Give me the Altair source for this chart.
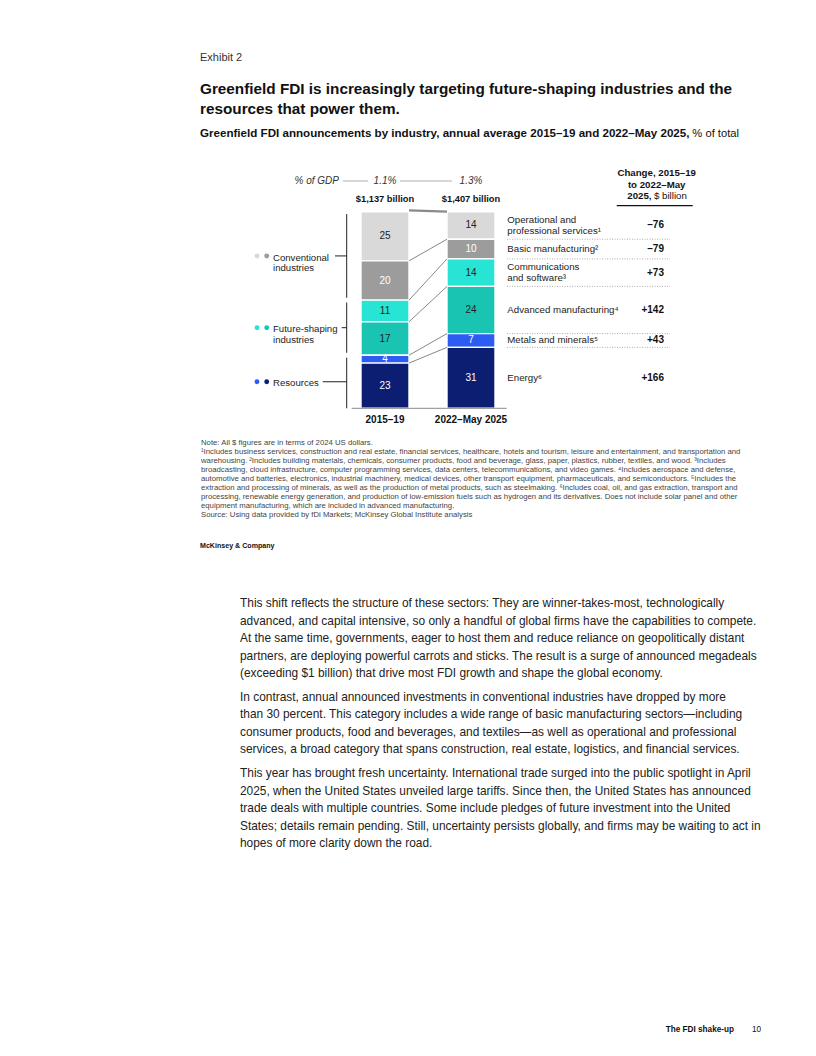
import altair as alt
import pandas as pd

# ------------------------------------------------------------------ data
periods = ["2015–19", "2022–May 2025"]
period_totals = ["$1,137 billion", "$1,407 billion"]
gdp_share = ["1.1%", "1.3%"]

industries = [
    "Operational and professional services",
    "Basic manufacturing",
    "Communications and software",
    "Advanced manufacturing",
    "Metals and minerals",
    "Energy",
]
industry_label_lines = [
    ["Operational and", "professional services¹"],
    ["Basic manufacturing²"],
    ["Communications", "and software³"],
    ["Advanced manufacturing⁴"],
    ["Metals and minerals⁵"],
    ["Energy⁶"],
]
share_2015_19 = [25, 20, 11, 17, 4, 23]
share_2022_may_2025 = [14, 10, 14, 24, 7, 31]
change_bn = ["–76", "–79", "+73", "+142", "+43", "+166"]

group_names = ["Conventional", "Future-shaping", "Resources"]
group_label_lines = [["Conventional", "industries"], ["Future-shaping", "industries"], ["Resources"]]
industry_group = ["Conventional", "Conventional", "Future-shaping", "Future-shaping", "Resources", "Resources"]

industry_colors = ["#d9d9d9", "#9c9c9c", "#28e4d5", "#19c4b2", "#2d5cf2", "#0b1e72"]
value_text_colors = ["#222222", "#ffffff", "#222222", "#222222", "#ffffff", "#ffffff"]

title_lines = [
    "Greenfield FDI is increasingly targeting future-shaping industries and the",
    "resources that power them.",
]
subtitle_bold = "Greenfield FDI announcements by industry, annual average 2015–19 and 2022–May 2025,"
subtitle_plain = "% of total"

footnote_lines = [
    "Note: All $ figures are in terms of 2024 US dollars.",
    "¹Includes business services, construction and real estate, financial services, healthcare, hotels and tourism, leisure and entertainment, and transportation and",
    "warehousing. ²Includes building materials, chemicals, consumer products, food and beverage, glass, paper, plastics, rubber, textiles, and wood. ³Includes",
    "broadcasting, cloud infrastructure, computer programming services, data centers, telecommunications, and video games. ⁴Includes aerospace and defense,",
    "automotive and batteries, electronics, industrial machinery, medical devices, other transport equipment, pharmaceuticals, and semiconductors. ⁵Includes the",
    "extraction and processing of minerals, as well as the production of metal products, such as steelmaking. ⁶Includes coal, oil, and gas extraction, transport and",
    "processing, renewable energy generation, and production of low-emission fuels such as hydrogen and its derivatives. Does not include solar panel and other",
    "equipment manufacturing, which are included in advanced manufacturing.",
    "Source: Using data provided by fDi Markets; McKinsey Global Institute analysis",
]

body_paragraphs = [
    [
        "This shift reflects the structure of these sectors: They are winner-takes-most, technologically",
        "advanced, and capital intensive, so only a handful of global firms have the capabilities to compete.",
        "At the same time, governments, eager to host them and reduce reliance on geopolitically distant",
        "partners, are deploying powerful carrots and sticks. The result is a surge of announced megadeals",
        "(exceeding $1 billion) that drive most FDI growth and shape the global economy.",
    ],
    [
        "In contrast, annual announced investments in conventional industries have dropped by more",
        "than 30 percent. This category includes a wide range of basic manufacturing sectors—including",
        "consumer products, food and beverages, and textiles—as well as operational and professional",
        "services, a broad category that spans construction, real estate, logistics, and financial services.",
    ],
    [
        "This year has brought fresh uncertainty. International trade surged into the public spotlight in April",
        "2025, when the United States unveiled large tariffs. Since then, the United States has announced",
        "trade deals with multiple countries. Some include pledges of future investment into the United",
        "States; details remain pending. Still, uncertainty persists globally, and firms may be waiting to act in",
        "hopes of more clarity down the road.",
    ],
]

# ------------------------------------------------------------------ layout
FONT = "Liberation Sans"
M = 8  # page margin


def px(v):
    return v - M


GAP = 38 / 48  # gap between bars in bar widths
BAR_TOP, BAR_BOTTOM = 211.7, 408.3
PX_PER_UNIT = (BAR_BOTTOM - BAR_TOP) / 100
X_SCALE = alt.Scale(domain=[0, 2 + GAP], range=[px(361), px(495)], nice=False, zero=False)
Y_SCALE = alt.Scale(domain=[0, 100], range=[px(BAR_TOP), px(BAR_BOTTOM)], nice=False, zero=False)


def X(f):
    return alt.X(f, type="quantitative", scale=X_SCALE, axis=None)


def Y(f):
    return alt.Y(f, type="quantitative", scale=Y_SCALE, axis=None)


def txt(text, x, y, size, weight="normal", color="#222222", align="left", style="normal"):
    return alt.Chart(pd.DataFrame({"t": [text]})).mark_text(
        font=FONT, fontSize=size, fontWeight=weight, color=color, align=align,
        baseline="middle", fontStyle=style,
    ).encode(x=alt.value(px(x)), y=alt.value(px(y)), text="t:N")


def hrule(x1, x2, y, color="#999999", width=1.0, dash=None):
    kw = dict(color=color, strokeWidth=width)
    if dash:
        kw["strokeDash"] = dash
    return alt.Chart(pd.DataFrame({"a": [0]})).mark_rule(**kw).encode(
        x=alt.value(px(x1)), x2=alt.value(px(x2)), y=alt.value(px(y)), y2=alt.value(px(y)))


# ------------------------------------------------------------------ tables
shares = [share_2015_19, share_2022_may_2025]
rows, bounds = [], []
for pi, p in enumerate(periods):
    x0 = pi * (1 + GAP)
    cum = 0
    b = [0]
    for k, ind in enumerate(industries):
        s = shares[pi][k]
        rows.append(dict(period=p, industry=ind, value=s, x0=x0, x1=x0 + 1, xc=x0 + 0.5,
                         y0=cum, y1=cum + s, ymid=cum + s / 2,
                         color=industry_colors[k], tcolor=value_text_colors[k]))
        cum += s
        b.append(cum)
    bounds.append(b)
bars_df = pd.DataFrame(rows)

conn_df = pd.DataFrame([dict(xa=1, xb=1 + GAP, ya=bounds[0][k], yb=bounds[1][k]) for k in range(1, 6)])
top_df = pd.DataFrame([dict(xa=1, xb=1 + GAP, ya=0, yb=0)])

LINE_UNITS = 10.7 / PX_PER_UNIT
mid2 = [(bounds[1][k] + bounds[1][k + 1]) / 2 for k in range(6)]
rl_rows = []
for k, lines in enumerate(industry_label_lines):
    n = len(lines)
    for j, line in enumerate(lines):
        rl_rows.append(dict(text=line, y=mid2[k] + (j - (n - 1) / 2) * LINE_UNITS))
right_lab_df = pd.DataFrame(rl_rows)
change_df = pd.DataFrame(dict(text=change_bn, y=mid2))
dotted_df = pd.DataFrame(dict(y=bounds[1][1:6]))

# groups on the first bar
g_rows = []
for g, lines in zip(group_names, group_label_lines):
    idx = [k for k, ig in enumerate(industry_group) if ig == g]
    start, end = bounds[0][idx[0]], bounds[0][idx[-1] + 1]
    g_rows.append(dict(group=g, start=start, end=end, mid=(start + end) / 2,
                       c1=industry_colors[idx[0]], c2=industry_colors[idx[-1]]))
groups_df = pd.DataFrame(g_rows)
INSET = 2.4 / PX_PER_UNIT
groups_df["ya"] = groups_df["start"] + INSET
groups_df["yb"] = groups_df["end"] - INSET
groups_df.loc[groups_df.index[-1], "yb"] = 100
gl_rows = []
for g, lines, mid in zip(group_names, group_label_lines, groups_df["mid"]):
    for j, line in enumerate(lines):
        gl_rows.append(dict(text=line, y=mid + 0.8 + j * LINE_UNITS))
group_lab_df = pd.DataFrame(gl_rows)

period_df = pd.DataFrame(dict(xc=[0.5, 1.5 + GAP], period=periods, total=period_totals, gdp=gdp_share))

# ------------------------------------------------------------------ layers
layers = []

bars = alt.Chart(bars_df).mark_rect(stroke="white", strokeWidth=1.4).encode(
    x=X("x0"), x2="x1", y=Y("y0"), y2="y1", color=alt.Color("color:N", scale=None))
bar_text = alt.Chart(bars_df).mark_text(font=FONT, fontSize=10, baseline="middle").encode(
    x=X("xc"), y=Y("ymid"), text="value:Q", color=alt.Color("tcolor:N", scale=None))
connectors = alt.Chart(conn_df).mark_rule(color="#7a7a7a", strokeWidth=0.9).encode(
    x=X("xa"), x2="xb", y=Y("ya"), y2="yb")
top_conn = alt.Chart(top_df).mark_rule(color="#8a8a8a", strokeWidth=2.2, yOffset=-1.3).encode(
    x=X("xa"), x2="xb", y=Y("ya"), y2="yb")
baseline = alt.Chart(pd.DataFrame(dict(y=[100]))).mark_rule(color="#8a8a8a", strokeWidth=1).encode(
    x=alt.value(px(351.7)), x2=alt.value(px(506.7)), y=Y("y"))
layers += [bars, connectors, top_conn, baseline, bar_text]

# right side
dotted = alt.Chart(dotted_df).mark_rule(color="#9a9a9a", strokeWidth=0.8, strokeDash=[1, 1.5]).encode(
    x=alt.value(px(507)), x2=alt.value(px(670)), y=Y("y"))
right_labels = alt.Chart(right_lab_df).mark_text(
    font=FONT, fontSize=9.7, align="left", baseline="middle", color="#222222").encode(
    x=alt.value(px(507.3)), y=Y("y"), text="text:N")
change_labels = alt.Chart(change_df).mark_text(
    font=FONT, fontSize=10, fontWeight="bold", align="right", baseline="middle", color="#111111").encode(
    x=alt.value(px(664)), y=Y("y"), text="text:N")
layers += [dotted, right_labels, change_labels]

# change header
layers += [
    txt("Change, 2015–19", 656.7, 172.8, 9.7, "bold", "#111111", "center"),
    txt("to 2022–May", 656.7, 184.5, 9.7, "bold", "#111111", "center"),
    txt("2025,", 651.5, 196.2, 9.7, "bold", "#111111", "right"),
    txt("$ billion", 654, 196.2, 9.7, "normal", "#111111", "left"),
    hrule(616.7, 692.7, 205.7, "#111111", 1.2),
]

# left groups
brackets = alt.Chart(groups_df).mark_rule(color="#222222", strokeWidth=1).encode(
    x=alt.value(px(346.7)), y=Y("ya"), y2="yb")
dots1 = alt.Chart(groups_df).mark_circle(size=24, opacity=1).encode(
    x=alt.value(px(257)), y=Y("mid"), color=alt.Color("c1:N", scale=None))
dots2 = alt.Chart(groups_df).mark_circle(size=24, opacity=1).encode(
    x=alt.value(px(266.7)), y=Y("mid"), color=alt.Color("c2:N", scale=None))
group_labels = alt.Chart(group_lab_df).mark_text(
    font=FONT, fontSize=9.6, align="left", baseline="middle", color="#222222").encode(
    x=alt.value(px(273)), y=Y("y"), text="text:N")
layers += [brackets, dots1, dots2, group_labels]
for gi, xs in enumerate([335, 341.7, 322.7]):
    layers.append(alt.Chart(groups_df.iloc[[gi]]).mark_rule(color="#222222", strokeWidth=1).encode(
        x=alt.value(px(xs)), x2=alt.value(px(346.7)), y=Y("mid")))

# top labels
gdp_text = alt.Chart(period_df).mark_text(
    font=FONT, fontSize=10, fontStyle="italic", baseline="middle", color="#333333").encode(
    x=X("xc"), y=alt.value(px(181)), text="gdp:N")
total_text = alt.Chart(period_df).mark_text(
    font=FONT, fontSize=9.3, fontWeight="bold", baseline="middle", color="#111111").encode(
    x=X("xc"), y=alt.value(px(199)), text="total:N")
period_text = alt.Chart(period_df).mark_text(
    font=FONT, fontSize=10, fontWeight="bold", baseline="middle", color="#111111").encode(
    x=X("xc"), y=alt.value(px(420)), text="period:N")
layers += [gdp_text, total_text, period_text,
           txt("% of GDP", 339, 181, 10, "normal", "#333333", "right", "italic"),
           hrule(343, 368, 181, "#9a9a9a", 0.8),
           hrule(400, 452, 181, "#9a9a9a", 0.8)]

# header
layers += [
    txt("Exhibit 2", 200, 58, 11, "normal", "#333333"),
    txt(title_lines[0], 200, 89, 15.3, "bold", "#111111"),
    txt(title_lines[1], 200, 108.5, 15.3, "bold", "#111111"),
    txt(subtitle_bold, 689.5, 134, 11.6, "bold", "#111111", "right"),
    txt(subtitle_plain, 739, 134, 11.2, "normal", "#111111", "right"),
]

# footnotes
for i, line in enumerate(footnote_lines):
    layers.append(txt(line, 201, 443.3 + i * 9.0, 7.75, "normal", "#444444"))
layers.append(txt("McKinsey & Company", 200, 546, 7.1, "bold", "#111111"))

# body text
para_starts = [603, 696.5, 773]
for start, para in zip(para_starts, body_paragraphs):
    for j, line in enumerate(para):
        layers.append(txt(line, 240, start + j * 17.5, 11.9, "normal", "#222222"))

# footer
layers += [
    txt("The FDI shake-up", 734, 1030, 8.2, "bold", "#111111", "right"),
    txt("10", 752, 1030, 8.2, "normal", "#111111", "left"),
]

chart = alt.layer(*layers).properties(
    width=800, height=1040, padding=0,
    autosize=alt.AutoSizeParams(type="none"),
).configure_view(stroke=None)

chart.save("out.html", embed_options={"renderer": "svg", "actions": False})
